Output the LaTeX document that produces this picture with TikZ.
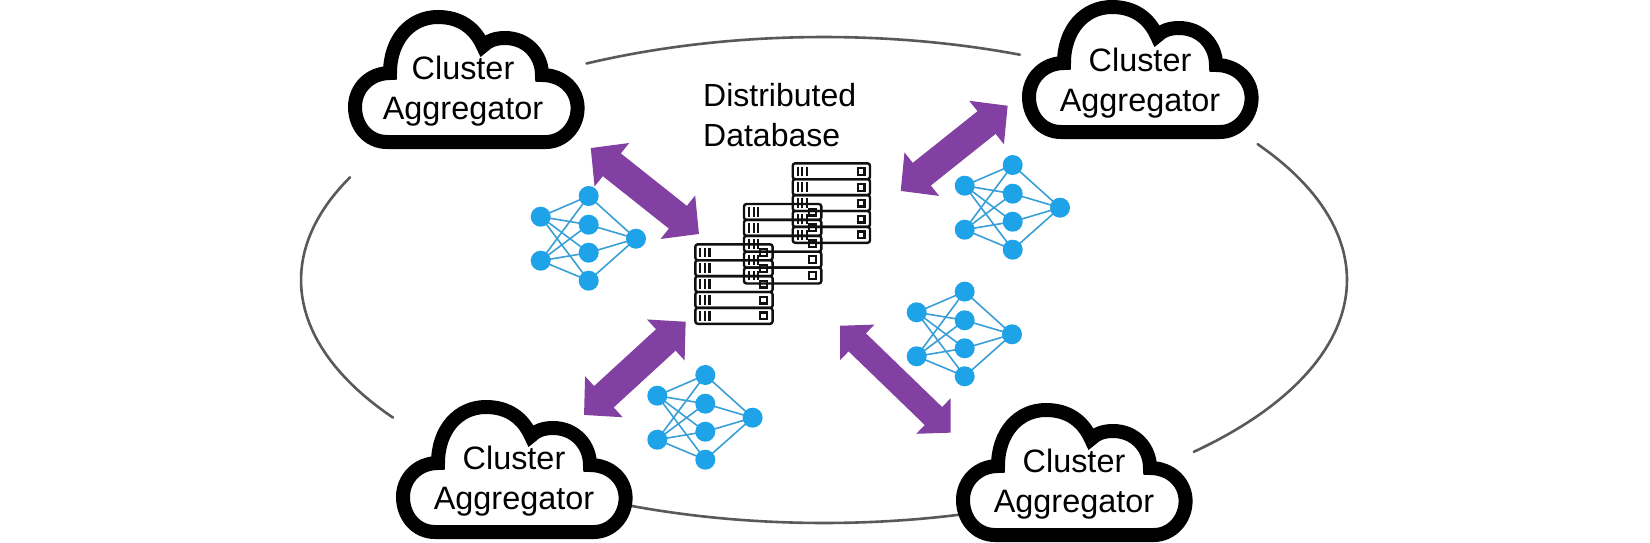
\documentclass[tikz,border=0pt]{standalone}
\usepackage{fontspec}
\setmainfont{Liberation Sans}
\usetikzlibrary{arrows.meta}
\definecolor{ringgray}{HTML}{595959}
\definecolor{flowpurple}{HTML}{8340A3}
\definecolor{netblue}{HTML}{1FA3E8}
\definecolor{netedge}{HTML}{3A9FD6}
\definecolor{rackblack}{HTML}{101010}
\tikzset{
  ringarc/.style={draw=ringgray,line width=2.6pt,line cap=round},
  cloudline/.style={draw=black,line width=14pt,line join=miter,miter limit=10},
  cloudlabel/.style={font=\fontsize{32.4}{40}\selectfont,align=center,inner sep=0pt},
  dblflow/.style={draw=flowpurple,line width=29pt,
    {Triangle[length=27pt,width=54pt,fill=flowpurple]}-{Triangle[length=27pt,width=54pt,fill=flowpurple]}},
  dblflowthin/.style={draw=flowpurple,line width=25pt,
    {Triangle[length=24pt,width=48pt,fill=flowpurple]}-{Triangle[length=24pt,width=48pt,fill=flowpurple]}},
  neuron/.style={circle,fill=netblue,minimum size=20pt,inner sep=0pt},
  synapse/.style={draw=netedge,line width=1.6pt},
  rackline/.style={draw=rackblack,line width=2.4pt},
  rackbar/.style={draw=rackblack,line width=2.1pt},
  racksquare/.style={draw=rackblack,line width=2.2pt},
  pics/cloudshape/.style={code={
    \path[cloudline] (226,142) -- (67,142) .. controls (48,142) and (35,126) .. (35,107)
      .. controls (35,88) and (50,73) .. (70,73)
      .. controls (70,40) and (90,17) .. (118,17)
      .. controls (140,17) and (155,28) .. (163,46)
      .. controls (168,41) and (175,38) .. (185,38)
      .. controls (207,38) and (222,55) .. (222,75)
      .. controls (243,75) and (257.6,90) .. (257.6,108)
      .. controls (257.6,127) and (243,142) .. (226,142) -- cycle;
  }},
  pics/neuralnet/.style={code={
    \coordinate (-i1) at (0,0);
    \coordinate (-i2) at (0,44);
    \coordinate (-h1) at (48,-20.7);
    \coordinate (-h2) at (48,8);
    \coordinate (-h3) at (48,36);
    \coordinate (-h4) at (48,64);
    \coordinate (-o) at (95.3,22);
    \foreach \a in {i1,i2} \foreach \b in {h1,h2,h3,h4}
      \draw[synapse] (-\a) -- (-\b);
    \foreach \b in {h1,h2,h3,h4}
      \draw[synapse] (-\b) -- (-o);
    \foreach \a in {i1,i2,h1,h2,h3,h4,o}
      \node[neuron] at (-\a) {};
  }},
  pics/rackstack/.style={code={
    \foreach \k in {0,1,2,3,4} {
      \begin{scope}[yshift=-\k*15.9pt]
        \draw[rackline,rounded corners=2.5pt] (0,0) rectangle (77.3,15.9);
        \foreach \bx in {5,9.6,14.2}
          \draw[rackbar] (\bx,3.2) -- (\bx,12.8);
        \draw[racksquare] (65,4.6) rectangle (71.8,11.4);
      \end{scope}
    }
  }},
}
\begin{document}
\begin{tikzpicture}[x=1pt,y=-1pt]
\useasboundingbox (0,0) rectangle (1650,543);
\fill[white] (0,0) rectangle (1650,543);

% ring
\draw[ringarc] plot[domain=117:68,samples=40] ({824+523*cos(\x)},{280-243*sin(\x)});
\draw[ringarc] plot[domain=155:214.5,samples=40] ({824+523*cos(\x)},{280-243*sin(\x)});
\draw[ringarc] plot[domain=34:-45,samples=60] ({824+523*cos(\x)},{280-243*sin(\x)});
\draw[ringarc] plot[domain=247.5:285,samples=40] ({824+523*cos(\x)},{280-243*sin(\x)});

% clouds
\pic (cloudA) at (320,0) {cloudshape};
\pic (cloudB) at (994,-10) {cloudshape};
\pic (cloudC) at (368,390) {cloudshape};
\pic (cloudD) at (928,393) {cloudshape};
\node[cloudlabel] (labelA) at (463,91.3) {Cluster\\Aggregator};
\node[cloudlabel] (labelB) at (1140,83.3) {Cluster\\Aggregator};
\node[cloudlabel] (labelC) at (514,481.3) {Cluster\\Aggregator};
\node[cloudlabel] (labelD) at (1074,484.3) {Cluster\\Aggregator};

% title
\node[font=\fontsize{32}{40}\selectfont,align=left,inner sep=0pt,anchor=west] (dbtitle) at (703,115) {Distributed\\Database};

% servers
\pic (rackT) at (792.7,163.3) {rackstack};
\pic (rackM) at (744,204) {rackstack};
\pic (rackB) at (695.3,244.3) {rackstack};

% networks
\pic (netA) at (540.7,216.7) {neuralnet};
\pic (netB) at (964.7,185.7) {neuralnet};
\pic (netC) at (657.3,395.7) {neuralnet};
\pic (netD) at (916.7,312.3) {neuralnet};

% arrows
\coordinate (a1) at (590.7,148);
\coordinate (a2) at (699,234);
\coordinate (b1) at (1007.7,105.7);
\coordinate (b2) at (900.7,191);
\coordinate (c1) at (685.7,321.7);
\coordinate (c2) at (584,415);
\coordinate (d1) at (840,325.7);
\coordinate (d2) at (950.7,432.7);
\draw[dblflow] (a1) -- (a2);
\draw[dblflow] (b1) -- (b2);
\draw[dblflow] (c1) -- (c2);
\draw[dblflowthin] (d1) -- (d2);
\end{tikzpicture}
\end{document}
